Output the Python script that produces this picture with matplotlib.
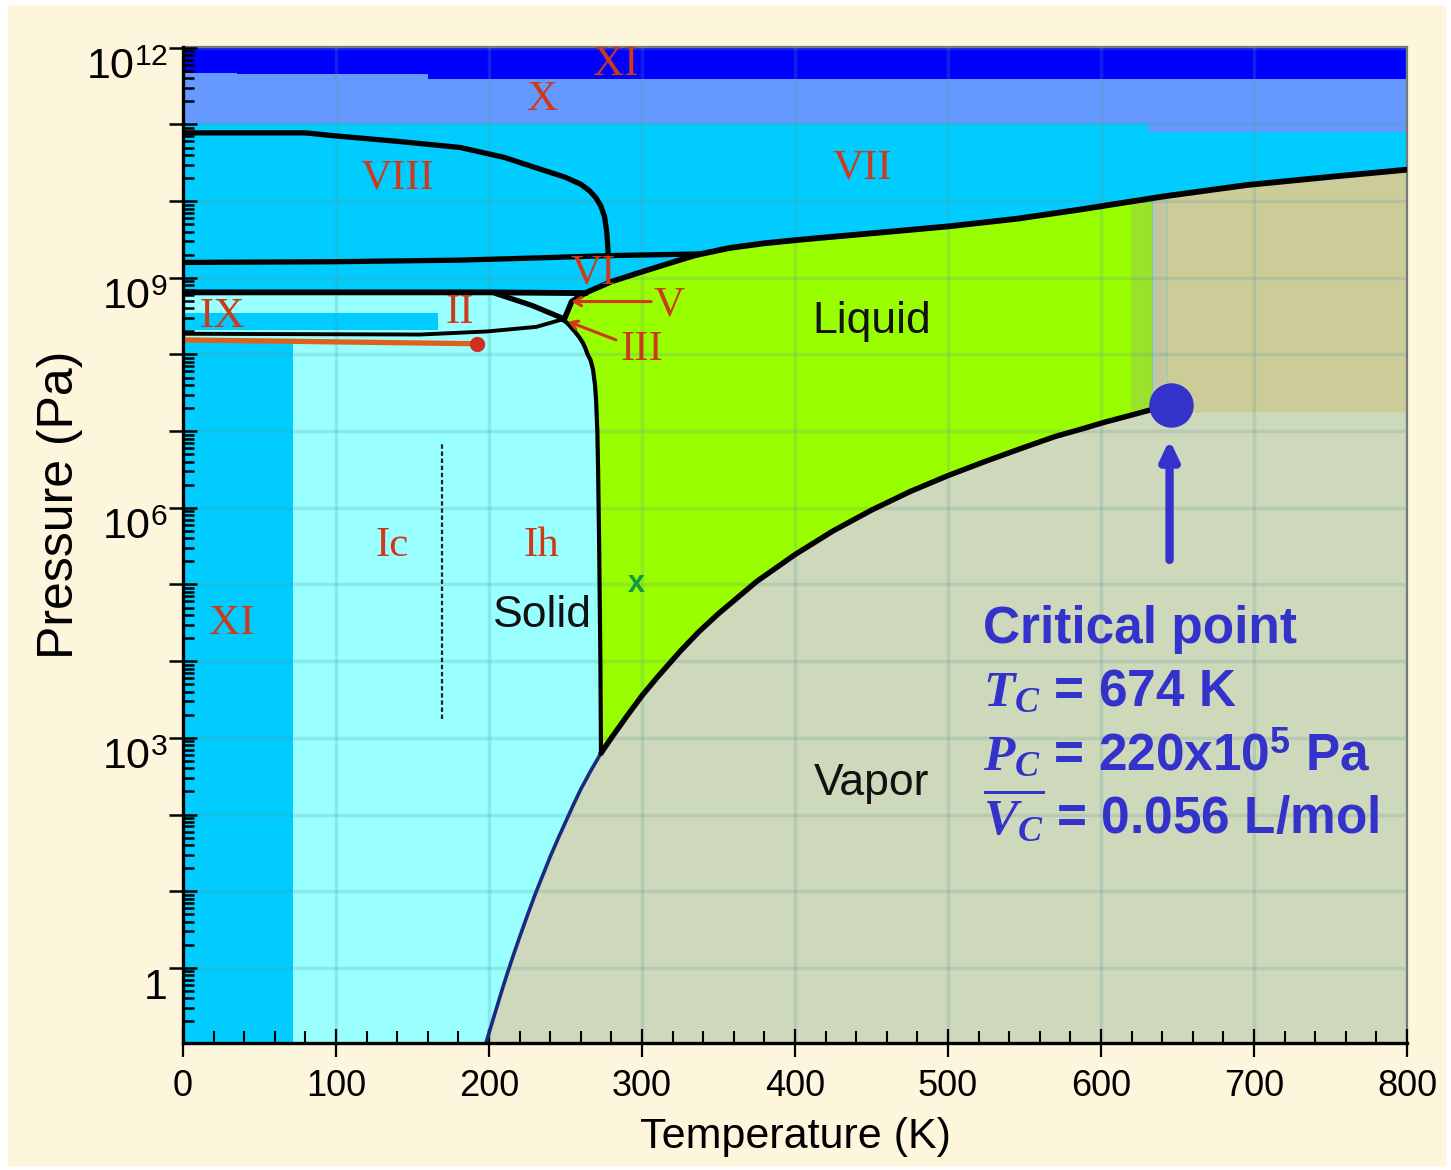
import numpy as np
import matplotlib
matplotlib.use('Agg')
import matplotlib.pyplot as plt
from matplotlib.patches import Rectangle
from matplotlib.ticker import LogLocator, FuncFormatter, MultipleLocator

# --- data: temperature in K, pressure as log10(Pa) ---

# solid / vapor (sublimation) curve
subl_T = [198.0, 201.5, 205.0, 208.5, 212.0, 216.0, 220.0, 225.0, 230.0, 235.0,
          240.0, 245.0, 250.0, 255.0, 260.0, 266.5, 273.2]
subl_logP = [-0.98, -0.75, -0.52, -0.29, -0.07, 0.17, 0.40, 0.68, 0.95, 1.20,
             1.45, 1.68, 1.90, 2.12, 2.33, 2.57, 2.80]

# liquid / vapor curve up to the critical point
vap_T = [273.2, 280, 290, 300, 310, 325, 337, 350, 375, 400, 425, 450, 475,
         500, 525, 550, 570, 586, 603, 620, 633, 646]
vap_logP = [2.80, 3.00, 3.28, 3.55, 3.79, 4.13, 4.38, 4.62, 5.04, 5.39, 5.70,
            5.97, 6.21, 6.42, 6.61, 6.79, 6.93, 7.02, 7.12, 7.21, 7.28, 7.34]

# ice Ih melting curve (triple point -> Ih/III/liquid point)
melt_T = [273.2, 272.8, 272.0, 271.3, 270.8, 270.0, 269.3, 268.0, 266.5, 264.5,
          263.0, 261.4, 258.8, 256.0, 252.5, 249.0]
melt_logP = [2.80, 4.00, 5.50, 6.50, 7.00, 7.40, 7.60, 7.80, 7.92, 8.00,
             8.08, 8.15, 8.23, 8.30, 8.38, 8.45]

# liquid / III, V, VI curve
liq6_T = [249.0, 254.0, 262.7, 280.0, 298.7, 318.0, 336.0]
liq6_logP = [8.45, 8.69, 8.80, 8.95, 9.07, 9.19, 9.30]

# liquid / VII curve
vii_T = [336.0, 357.5, 380.0, 405.0, 450.0, 500.0, 545.0, 586.3, 640.5, 695.4,
         751.6, 800.0]
vii_logP = [9.30, 9.39, 9.45, 9.50, 9.58, 9.67, 9.77, 9.89, 10.06, 10.21,
            10.32, 10.41]

# VIII boundary
viii_T = [0, 80, 100, 140, 181, 210, 233, 250, 260, 266, 270, 273, 275.5,
          277, 278]
viii_logP = [10.89, 10.89, 10.85, 10.78, 10.70, 10.57, 10.42, 10.31, 10.22,
             10.13, 10.04, 9.94, 9.80, 9.59, 9.29]

# VI / VIII line
vi_T = [0, 100, 180, 233, 280, 336]
vi_logP = [9.20, 9.21, 9.23, 9.26, 9.29, 9.31]

# V / VI line
v_T = [0, 200, 262.7]
v_logP = [8.81, 8.81, 8.80]

# II / III-V line
ii_T = [205.2, 228.0, 248.4]
ii_logP = [8.79, 8.64, 8.47]

# Ih / II line
ih2_T = [0, 155, 198.7, 231, 248.4]
ih2_logP = [8.27, 8.26, 8.30, 8.36, 8.46]

# orange IX line with end dot
ix_T = [0, 192]
ix_logP = [8.19, 8.14]

# band / region edges
xi_edge = 71.9                       # XI | Ic
ix_box = (166.7, 8.32, 8.54)         # T max, logP low, logP high
blue_T = [0, 35, 160, 800]
blue_logP = [11.67, 11.66, 11.59]
peri_T = [0, 631, 800]
peri_logP = [11.02, 10.90]
green_edge = 619.6
lgreen_edge = 633.3
grey_edge = 643.0
super_logP = 7.25
ic_line = (169, 3.25, 6.86)

# critical point
crit_T, crit_logP = 646, 7.34
arrow_T, arrow_logP = 644.8, (5.32, 6.89)

# axis ticks
y_decades = list(range(0, 13))
x_major, x_minor = 100, 20

# labels: (text, T, logP)
red_labels = [('XI', 283, 11.78), ('X', 235, 11.32), ('VIII', 140, 10.30),
              ('VII', 444, 10.43), ('VI', 268, 9.06), ('V', 318, 8.64),
              ('III', 300, 8.06), ('II', 181, 8.54), ('IX', 25.5, 8.49),
              ('Ic', 137, 5.50), ('Ih', 234, 5.50), ('XI', 32, 4.49)]
black_labels = [('Liquid', 450, 8.43), ('Solid', 235, 4.59), ('Vapor', 450, 2.41)]
crit_lines = ['Critical point', r'$T_C$ = 674 K',
              r'$P_C$ = 220x10$^{\mathbf{5}}$ Pa', r'$\overline{V_C}$ = 0.056 L/mol']
crit_text_T = 522.9
crit_text_logP = [4.236, 3.41, 2.58, 1.75]


def P(l):
    return 10.0 ** np.asarray(l, float)


def part(T, L, t0, t1):
    # piece of a curve between t0 and t1 (T increasing)
    T = np.asarray(T, float)
    L = np.asarray(L, float)
    keep = (T > t0) & (T < t1)
    t = np.concatenate([[t0], T[keep], [t1]])
    return t, np.interp(t, T, L)


plt.rcParams['font.family'] = ['Liberation Sans', 'DejaVu Sans']
plt.rcParams['mathtext.fontset'] = 'custom'
plt.rcParams['mathtext.rm'] = 'Liberation Sans'
plt.rcParams['mathtext.bf'] = 'Liberation Sans:bold'
plt.rcParams['mathtext.it'] = 'Liberation Serif:italic:bold'

cyan = '#00ccff'
lcyan = '#99ffff'
green = '#99ff00'
lgreen = '#9be22b'
beige = '#cccc99'
greyb = '#c3c69f'
vapor = '#ced8ba'
peri = '#6699ff'
dblue = '#0000ff'
red = '#cc3a1a'
cpblue = '#3333cc'

fig = plt.figure(figsize=(14.51, 11.70), dpi=100, facecolor='white')
fig.patches.append(Rectangle((8 / 1451, 5 / 1170), 1437 / 1451, 1159 / 1170,
                             transform=fig.transFigure, color='#fdf6dc', zorder=-10))
ax = fig.add_axes([183 / 1451, 1 - 1043 / 1170, 1224 / 1451, 996 / 1170])
ax.set_yscale('log')
ax.set_xlim(0, 800)
ax.set_ylim(10 ** -0.98, 10 ** 12.01)
ax.set_facecolor(cyan)

lo, hi = -1.5, 12.5

# vapor
vx = [subl_T[0], subl_T[0]] + subl_T[1:] + vap_T[1:] + [crit_T, 800, 800]
vy = [lo, subl_logP[0]] + subl_logP[1:] + vap_logP[1:] + [super_logP, super_logP, lo]
ax.fill(vx, P(vy), color=vapor, lw=0, zorder=1)

# supercritical strips
t, l = part(vii_T, vii_logP, grey_edge, 800)
ax.fill_between(t, P(super_logP), P(l), color=beige, lw=0, zorder=1)
t, l = part(vii_T, vii_logP, lgreen_edge, grey_edge)
ax.fill_between(t, P(super_logP), P(l), color=greyb, lw=0, zorder=1)
t, l = part(vii_T, vii_logP, green_edge, lgreen_edge)
tb, lb = part(vap_T, vap_logP, green_edge, lgreen_edge)
ax.fill(list(tb) + list(t[::-1]), P(list(lb) + list(l[::-1])), color=lgreen, lw=0, zorder=1)

# liquid
tv, lv = part(vap_T, vap_logP, 273.2, green_edge)
tt, lt = part(vii_T, vii_logP, 336.0, green_edge)
gx = list(tv) + list(tt[::-1]) + liq6_T[::-1][1:] + melt_T[::-1][1:]
gy = list(lv) + list(lt[::-1]) + liq6_logP[::-1][1:] + melt_logP[::-1][1:]
ax.fill(gx, P(gy), color=green, lw=0, zorder=1)

# ice Ih / Ic / II (light cyan)
sx = [0, subl_T[0]] + subl_T[1:] + melt_T[1:] + liq6_T[1:3] + [0]
sy = [lo, lo] + subl_logP[1:] + melt_logP[1:] + liq6_logP[1:3] + [v_logP[0]]
ax.fill(sx, P(sy), color=lcyan, lw=0, zorder=1)

# XI and IX boxes
ax.fill_between([0, xi_edge], P(lo), P(ix_logP[0]), color=cyan, lw=0, zorder=1)
ax.fill_between([0, ix_box[0]], P(ix_box[1]), P(ix_box[2]), color=cyan, lw=0, zorder=1)

# high pressure bands
ax.fill_between(peri_T, P(peri_logP + [peri_logP[-1]]), P(hi), step='post',
                color=peri, lw=0, zorder=1)
ax.fill_between(blue_T, P(blue_logP + [blue_logP[-1]]), P(hi), step='post',
                color=dblue, lw=0, zorder=1)

# boundary lines
ax.plot(subl_T, P(subl_logP), color='#1a2a80', lw=2.6, zorder=3)
ax.plot(vap_T, P(vap_logP), color='black', lw=3.9, zorder=3, solid_capstyle='round')
ax.plot(melt_T, P(melt_logP), color='black', lw=3.0, zorder=3)
ax.plot(liq6_T, P(liq6_logP), color='black', lw=4.0, zorder=3)
ax.plot(vii_T, P(vii_logP), color='black', lw=4.2, zorder=3)
ax.plot(viii_T, P(viii_logP), color='black', lw=3.8, zorder=3)
ax.plot(vi_T, P(vi_logP), color='black', lw=3.8, zorder=3)
ax.plot(v_T, P(v_logP), color='black', lw=4.2, zorder=3)
ax.plot(ii_T, P(ii_logP), color='black', lw=3.8, zorder=3)
ax.plot(ih2_T, P(ih2_logP), color='black', lw=2.8, zorder=3)
ax.plot(ix_T, P(ix_logP), color='#e0601a', lw=3.8, zorder=3)
ax.plot(ix_T[-1], P(ix_logP[-1]), 'o', color='#d03020', ms=10, zorder=3)
ax.plot([ic_line[0]] * 2, P(ic_line[1:]), color='#222222', lw=1.6,
        ls=(0, (2, 1.2)), zorder=3)

# V and III pointers
ax.annotate('', xy=(254, P(8.69)), xytext=(306, P(8.69)),
            arrowprops=dict(arrowstyle='->,head_length=0.5,head_width=0.3',
                            color=red, lw=2.2, shrinkA=0, shrinkB=0), zorder=4)
ax.annotate('', xy=(251.6, P(8.43)), xytext=(283, P(8.19)),
            arrowprops=dict(arrowstyle='->,head_length=0.5,head_width=0.3',
                            color=red, lw=2.2, shrinkA=0, shrinkB=0), zorder=4)

for s, tx, ly in red_labels:
    ax.text(tx, P(ly), s, color=red, fontsize=31, family='Liberation Serif',
            ha='center', va='center', zorder=4)
for s, tx, ly in black_labels:
    ax.text(tx, P(ly), s, color='#111111', fontsize=32, ha='center', va='center', zorder=4)
ax.text(296, P(5.01), 'x', color='#119944', fontsize=22, weight='bold',
        ha='center', va='center', zorder=4)

# critical point
ax.plot(crit_T, P(crit_logP), 'o', color=cpblue, ms=31, zorder=5)
ax.annotate('', xy=(arrow_T, P(arrow_logP[1])), xytext=(arrow_T, P(arrow_logP[0])),
            arrowprops=dict(arrowstyle='-|>,head_length=0.55,head_width=0.26',
                            mutation_scale=20, color=cpblue, lw=6.0,
                            shrinkA=0, shrinkB=0), zorder=5)
for s, ly in zip(crit_lines, crit_text_logP):
    ax.text(crit_text_T, P(ly), s, color=cpblue, fontsize=37, weight='bold',
            family='Liberation Sans', ha='left', va='baseline', zorder=5)

# axes, ticks, grid
ax.xaxis.set_major_locator(MultipleLocator(x_major))
ax.xaxis.set_minor_locator(MultipleLocator(x_minor))
ylabels = ['' if e % 3 else ('1' if e == 0 else r'$10^{%d}$' % e) for e in y_decades]
ax.set_yticks(P(y_decades), labels=ylabels)
ax.yaxis.set_minor_locator(LogLocator(base=10, subs=np.arange(2, 10), numticks=200))
ax.yaxis.set_minor_formatter(FuncFormatter(lambda v, p: ''))
ax.tick_params(axis='x', which='major', direction='inout', length=20, width=1.6,
               labelsize=26, pad=9)
ax.tick_params(axis='x', which='minor', direction='in', length=9, width=1.5)
ax.tick_params(axis='y', which='major', direction='inout', length=20, width=1.8,
               labelsize=31, pad=1)
ax.tick_params(axis='y', which='minor', direction='in', length=8, width=1.8)
ax.tick_params(top=False, right=False)
for tk in ax.yaxis.get_major_ticks():
    tk.label1.set_verticalalignment('top')
ax.set_axisbelow(False)
ax.grid(True, which='major', color='#5a9a9a', alpha=0.22, lw=2.5)
for side in ['left', 'bottom']:
    ax.spines[side].set_linewidth(2.4)
    ax.spines[side].set_zorder(6)
for side in ['top', 'right']:
    ax.spines[side].set_linewidth(1.6)
    ax.spines[side].set_color('#777777')

fig.text(60 / 1451, 1 - 505 / 1170, 'Pressure (Pa)', rotation=90, ha='center',
         va='center', fontsize=36)
fig.text(795 / 1451, 1 - 1137 / 1170, 'Temperature (K)', ha='center', va='center',
         fontsize=31)

fig.savefig('out.png', dpi=100, facecolor=fig.get_facecolor())
